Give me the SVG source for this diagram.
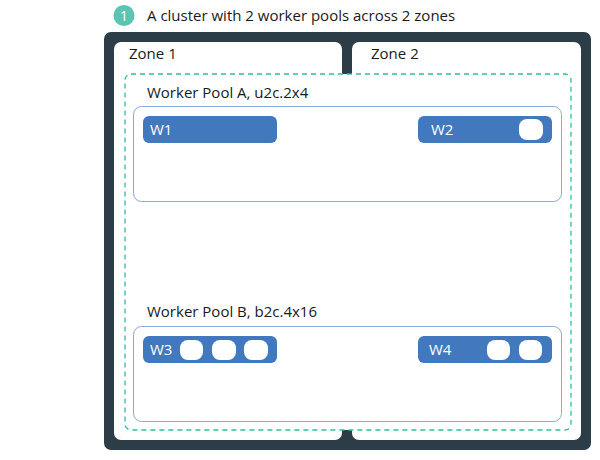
<svg xmlns="http://www.w3.org/2000/svg" width="600" height="460" viewBox="0 0 600 460">
  <style>
    text { font-family: "Open Sans", "Noto Sans", "Liberation Sans", sans-serif; }
    .title { font-size: 15px; fill: #1a1a1a; }
    .label { font-size: 15px; fill: #1a1a1a; }
    .zone { fill: #ffffff; }
    .pool { fill: #ffffff; stroke: #8aa8dc; stroke-width: 1; }
    .worker { fill: #4178be; }
    .wtext { font-size: 15px; fill: #ffffff; }
    .pill { fill: #ffffff; }
  </style>

  <rect width="600" height="460" fill="#ffffff"/>

  <!-- heading -->
  <g id="heading">
    <circle cx="124" cy="15.5" r="10.5" fill="#5bc4b3"/>
    <text x="124" y="20.5" text-anchor="middle" font-size="14" fill="#ffffff">1</text>
    <text class="title" x="147" y="21">A cluster with 2 worker pools across 2 zones</text>
  </g>

  <!-- cluster frame -->
  <g id="cluster">
    <rect x="104" y="32" width="487" height="418" rx="7" fill="#2c3d48"/>
  </g>

  <g id="zone1">
    <rect class="zone" x="114" y="42" width="228" height="398" rx="7"/>
    <text class="label" x="129" y="59">Zone 1</text>
  </g>
  <g id="zone2">
    <rect class="zone" x="352" y="42" width="229" height="398" rx="7"/>
    <text class="label" x="371" y="59">Zone 2</text>
  </g>

  <!-- cluster-wide region spanning both zones -->
  <g id="span">
    <rect x="125" y="74" width="446" height="356" rx="6" fill="#ffffff" stroke="#2bbfa5" stroke-width="1.3" stroke-dasharray="5 4"/>
  </g>

  <g id="poolA">
    <text class="label" x="147" y="98">Worker Pool A, u2c.2x4</text>
    <rect class="pool" x="133.5" y="106.5" width="428" height="95" rx="8"/>
  </g>
  <g id="w1">
    <rect class="worker" x="143" y="116" width="134" height="27" rx="6"/>
    <text class="wtext" x="150" y="134.5">W1</text>
  </g>
  <g id="w2">
    <rect class="worker" x="418" y="116" width="134" height="27" rx="6"/>
    <text class="wtext" x="431" y="134.5">W2</text>
    <rect class="pill" x="519" y="119" width="24" height="21" rx="8"/>
  </g>

  <g id="poolB">
    <text class="label" x="147" y="317">Worker Pool B, b2c.4x16</text>
    <rect class="pool" x="133.5" y="326.5" width="428" height="95" rx="8"/>
  </g>
  <g id="w3">
    <rect class="worker" x="143" y="336" width="134" height="27" rx="6"/>
    <text class="wtext" x="150" y="354.5">W3</text>
    <rect class="pill" x="180" y="340" width="23" height="20" rx="8"/>
    <rect class="pill" x="212" y="340" width="24" height="20" rx="8"/>
    <rect class="pill" x="244" y="340" width="24" height="20" rx="8"/>
  </g>
  <g id="w4">
    <rect class="worker" x="418" y="336" width="134" height="27" rx="6"/>
    <text class="wtext" x="429" y="354.5">W4</text>
    <rect class="pill" x="487" y="340" width="23" height="20" rx="8"/>
    <rect class="pill" x="519" y="340" width="23" height="20" rx="8"/>
  </g>
</svg>
